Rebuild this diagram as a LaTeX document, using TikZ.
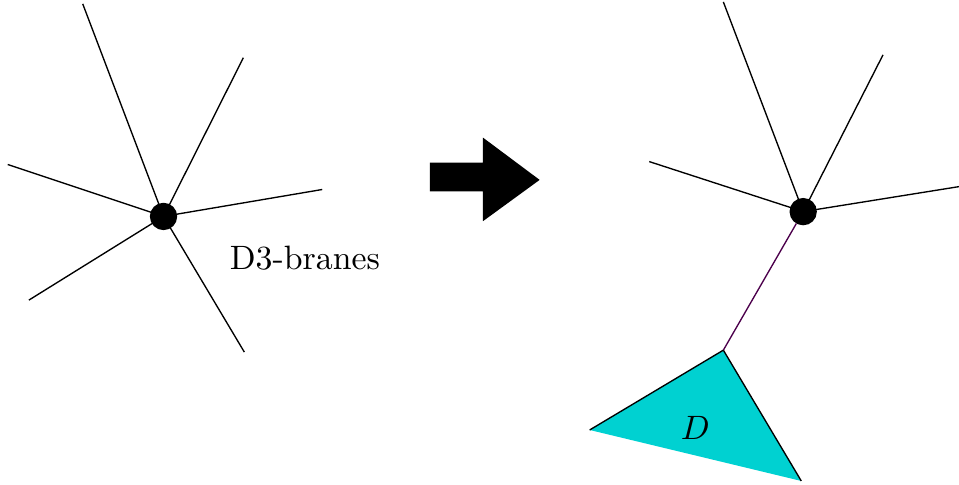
\documentclass[tikz,border=0pt]{standalone}
\usetikzlibrary{positioning}
\definecolor{branecyan}{rgb}{0,0.82,0.82}
\definecolor{stringcol}{rgb}{0.3,0,0.3}
\tikzset{
    brane/.style={draw,circle,fill=black,inner sep=0pt,minimum size=0.27cm},
    leg/.style={black,line width=0.4pt}
}
\begin{document}
\begin{tikzpicture}
                \useasboundingbox (0,0) rectangle (9.97,5.04);
                % left: stack of D3-branes
                \node[brane] (L) at (1.70,2.79) {};
                \coordinate (L1) at (0.86,5.00);
                \coordinate (L2) at (2.53,4.44);
                \coordinate (L3) at (3.35,3.07);
                \coordinate (L4) at (2.54,1.38);
                \coordinate (L5) at (0.30,1.92);
                \coordinate (L6) at (0.08,3.33);
                \draw[leg] (L.center) -- (L1);
                \draw[leg] (L.center) -- (L2);
                \draw[leg] (L.center) -- (L3);
                \draw[leg] (L.center) -- (L4);
                \draw[leg] (L.center) -- (L5);
                \draw[leg] (L.center) -- (L6);
                \node (T) at (3.17,2.36) {D3-branes};
                % big arrow
                \fill (4.47,3.05) -- (5.02,3.05) -- (5.02,2.74) -- (5.61,3.17) -- (5.02,3.61) -- (5.02,3.35) -- (4.47,3.35) -- cycle;
                % right: branes pulled apart
                \node[brane] (R) at (8.35,2.84) {};
                \coordinate (R1) at (7.52,5.02);
                \coordinate (R2) at (9.18,4.47);
                \coordinate (R3) at (9.97,3.10);
                \coordinate (R4) at (6.75,3.36);
                \draw[leg] (R.center) -- (R1);
                \draw[leg] (R.center) -- (R2);
                \draw[leg] (R.center) -- (R3);
                \draw[leg] (R.center) -- (R4);
                \coordinate (A) at (7.52,1.40);
                \coordinate (B) at (6.13,0.57);
                \coordinate (C) at (8.33,0.04);
                \fill[branecyan] (A) -- (B) -- (C) -- cycle;
                \draw[leg] (B) -- (A) -- (C);
                \draw[stringcol] (R) -- (A);
                \node (D) at (7.23,0.59) {$D$};
            \end{tikzpicture}
\end{document}
